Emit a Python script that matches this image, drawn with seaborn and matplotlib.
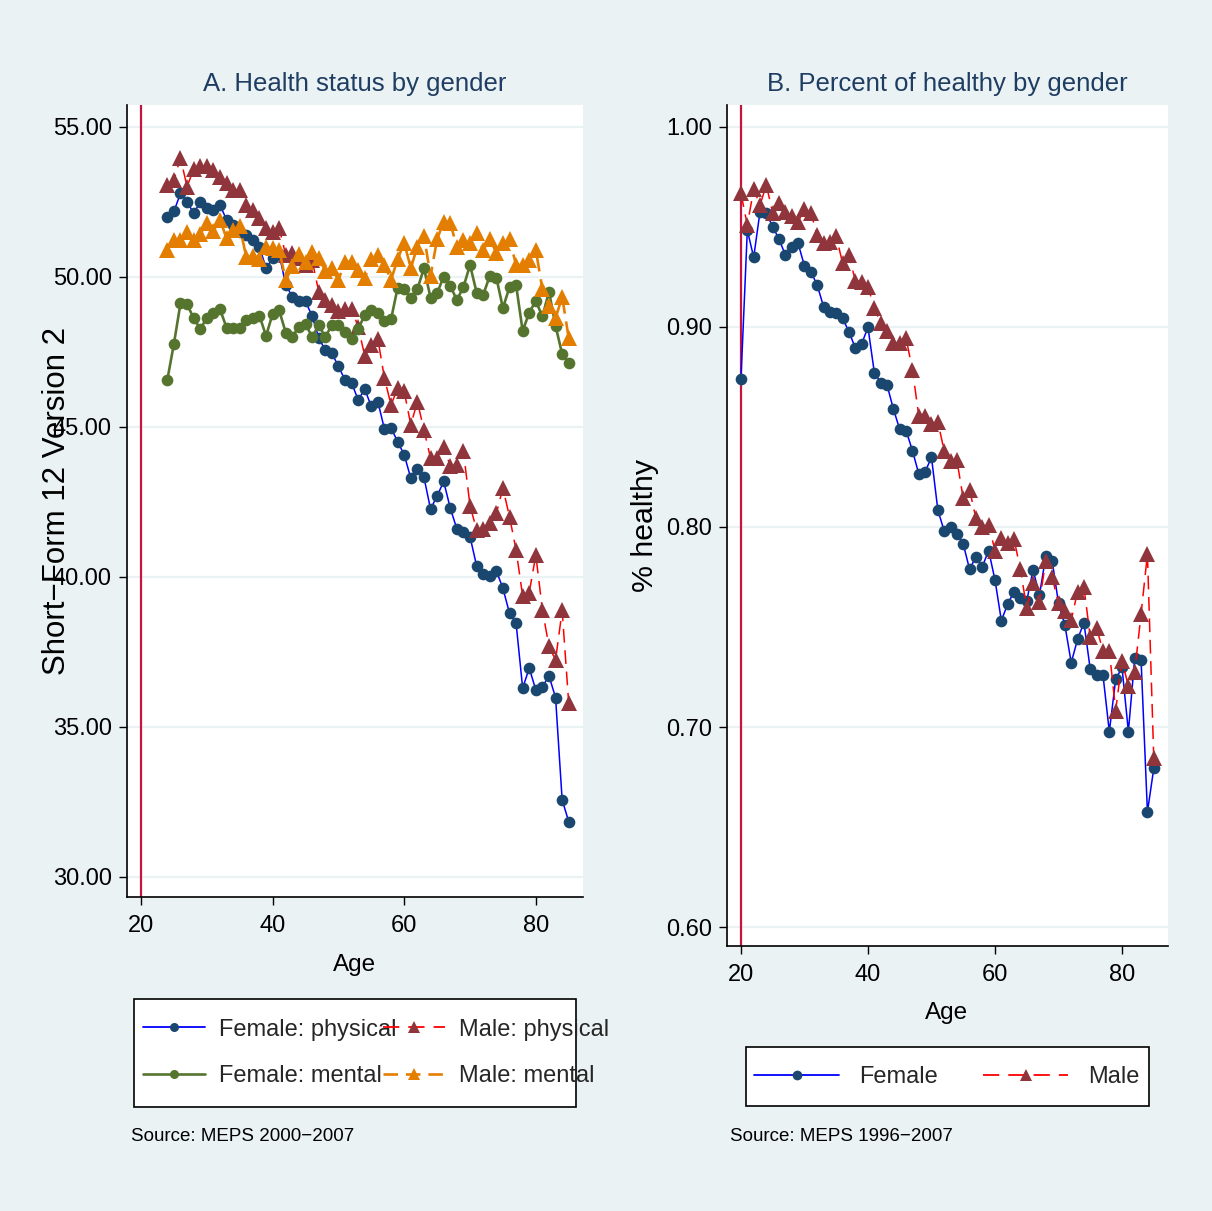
import matplotlib
matplotlib.use("Agg")
import matplotlib.pyplot as plt
import seaborn as sns
import pandas as pd
from matplotlib.lines import Line2D
from matplotlib.patches import Rectangle
from matplotlib.ticker import FixedLocator, FixedFormatter

# ---------------- data ----------------
ages_a = list(range(24, 86))
female_physical = [52.01, 52.18, 52.79, 52.51, 52.12, 52.49, 52.29, 52.23, 52.40, 51.90,
                   51.73, 51.51, 51.40, 51.23, 51.01, 50.29, 50.62, 50.75, 49.73, 49.34,
                   49.21, 49.18, 48.70, 47.98, 47.55, 47.46, 47.02, 46.57, 46.47, 45.90,
                   46.26, 45.68, 45.84, 44.92, 44.96, 44.51, 44.07, 43.29, 43.59, 43.32,
                   42.26, 42.70, 43.18, 42.29, 41.60, 41.51, 41.34, 40.37, 40.10, 40.02,
                   40.20, 39.62, 38.79, 38.46, 36.29, 36.96, 36.23, 36.34, 36.70, 35.98,
                   32.57, 31.84]
male_physical = [53.07, 53.23, 53.96, 53.01, 53.59, 53.68, 53.68, 53.57, 53.34, 53.12,
                 52.90, 52.90, 52.40, 52.23, 51.96, 51.62, 51.51, 51.62, 50.73, 50.79,
                 50.62, 50.40, 50.57, 49.51, 49.23, 49.07, 48.85, 48.92, 48.92, 48.34,
                 47.37, 47.73, 47.92, 46.62, 45.73, 46.29, 46.18, 45.07, 45.84, 44.90,
                 43.96, 43.96, 44.32, 43.70, 43.73, 44.18, 42.37, 41.57, 41.59, 41.81,
                 42.12, 42.96, 42.01, 40.90, 39.37, 39.48, 40.73, 38.90, 37.68, 37.23,
                 38.88, 35.79]
female_mental = [46.57, 47.77, 49.12, 49.09, 48.62, 48.27, 48.62, 48.79, 48.92, 48.31,
                 48.31, 48.31, 48.57, 48.62, 48.71, 48.03, 48.77, 48.88, 48.14, 48.01,
                 48.34, 48.42, 48.01, 48.38, 48.01, 48.38, 48.40, 48.15, 47.92, 48.26,
                 48.73, 48.88, 48.81, 48.52, 48.59, 49.64, 49.59, 49.29, 49.59, 50.29,
                 49.31, 49.46, 50.01, 49.70, 49.23, 49.66, 50.40, 49.48, 49.40, 50.03,
                 49.98, 48.96, 49.66, 49.73, 48.20, 48.81, 49.20, 48.68, 49.51, 48.37,
                 47.43, 47.14]
male_mental = [50.90, 51.23, 51.23, 51.51, 51.23, 51.42, 51.81, 51.54, 51.90, 51.29,
               51.57, 51.68, 50.66, 50.68, 50.59, 50.99, 50.96, 50.90, 49.88, 50.37,
               50.76, 50.51, 50.84, 50.62, 50.21, 50.29, 49.90, 50.50, 50.51, 50.23,
               49.96, 50.60, 50.73, 50.40, 49.90, 50.59, 51.14, 50.29, 51.01, 51.37,
               50.03, 51.26, 51.84, 51.79, 51.01, 51.23, 51.12, 51.46, 50.90, 51.26,
               50.81, 51.12, 51.26, 50.40, 50.40, 50.57, 50.90, 49.59, 49.03, 48.62,
               49.34, 47.96]

ages_b = list(range(20, 86))
female_healthy = [0.8738, 0.9485, 0.9348, 0.9577, 0.9568, 0.9502, 0.9438, 0.9360, 0.9402, 0.9418,
                  0.9305, 0.9277, 0.9210, 0.9102, 0.9077, 0.9068, 0.9043, 0.8977, 0.8895, 0.8916,
                  0.8998, 0.8772, 0.8722, 0.8710, 0.8590, 0.8488, 0.8482, 0.8382, 0.8265, 0.8277,
                  0.8348, 0.8085, 0.7980, 0.8000, 0.7965, 0.7915, 0.7788, 0.7852, 0.7802, 0.7882,
                  0.7735, 0.7532, 0.7615, 0.7677, 0.7643, 0.7632, 0.7785, 0.7660, 0.7855, 0.7832,
                  0.7618, 0.7510, 0.7322, 0.7438, 0.7522, 0.7288, 0.7260, 0.7260, 0.6977, 0.7238,
                  0.7298, 0.6977, 0.7343, 0.7335, 0.6575, 0.6793]
male_healthy = [0.9668, 0.9510, 0.9688, 0.9610, 0.9710, 0.9568, 0.9622, 0.9577, 0.9555, 0.9527,
                0.9588, 0.9572, 0.9460, 0.9418, 0.9427, 0.9455, 0.9318, 0.9360, 0.9232, 0.9227,
                0.9202, 0.9093, 0.9020, 0.8980, 0.8920, 0.8920, 0.8943, 0.8786, 0.8555, 0.8555,
                0.8515, 0.8527, 0.8380, 0.8330, 0.8333, 0.8143, 0.8185, 0.8043, 0.7998, 0.8010,
                0.7882, 0.7943, 0.7922, 0.7938, 0.7788, 0.7593, 0.7722, 0.7627, 0.7832, 0.7748,
                0.7618, 0.7582, 0.7535, 0.7677, 0.7702, 0.7448, 0.7493, 0.7382, 0.7382, 0.7082,
                0.7332, 0.7205, 0.7277, 0.7565, 0.7865, 0.6843]

xticks = [20, 40, 60, 80]
yticks_a = [30, 35, 40, 45, 50, 55]
yticks_b = [0.6, 0.7, 0.8, 0.9, 1.0]
labels_a = ["Female: physical", "Female: mental", "Male: physical", "Male: mental"]
labels_b = ["Female", "Male"]

# ---------------- style ----------------
sns.set_style("white")
NARROW = ["Liberation Sans Narrow", "Liberation Sans", "DejaVu Sans"]
REGULAR = ["Liberation Sans", "DejaVu Sans"]
plt.rcParams["font.family"] = NARROW
plt.rcParams["axes.unicode_minus"] = True

BG = "#EAF2F3"
GRID = "#EAF2F3"
TITLE = "#1F3D63"
NAVY = "#1A476F"
MAROON = "#90353B"
FOREST = "#55752F"
ORANGE = "#E37E00"
BLUE = "#0000FF"
RED = "#FF0000"
XLINE = "#C8143C"

TICK_FS = 17
TITLE_FS = 18.5
LAB_FS = 17.5
LEG_FS = 17
SRC_FS = 13.5

W, H = 1212, 1211
fig = plt.figure(figsize=(W / 100, H / 100), dpi=100, facecolor=BG)


def fx(px):
    return px / W


def fy(py):
    return 1 - py / H


axA = fig.add_axes([fx(127), fy(897), fx(583) - fx(127), fy(105) - fy(897)])
axB = fig.add_axes([fx(727), fy(946), fx(1168) - fx(727), fy(105) - fy(946)])

dfA = pd.DataFrame({"age": ages_a, "fp": female_physical, "mp": male_physical,
                    "fm": female_mental, "mm": male_mental})
dfB = pd.DataFrame({"age": ages_b, "f": female_healthy, "m": male_healthy})

CIRC = 8.4
TRI = 11.5

for ax in (axA, axB):
    ax.set_facecolor("white")

# Panel A
sns.lineplot(data=dfA, x="age", y="fp", ax=axA, color=BLUE, linewidth=1.1, marker="o",
             markersize=CIRC, markerfacecolor=NAVY, markeredgecolor=NAVY, markeredgewidth=0,
             errorbar=None, legend=False, zorder=3)
sns.lineplot(data=dfA, x="age", y="mp", ax=axA, color=RED, linewidth=1.1, marker="^",
             linestyle=(0, (9, 5)), markersize=TRI, markerfacecolor=MAROON,
             markeredgecolor=MAROON, markeredgewidth=0, errorbar=None, legend=False, zorder=3)
sns.lineplot(data=dfA, x="age", y="fm", ax=axA, color=FOREST, linewidth=1.9, marker="o",
             markersize=CIRC, markerfacecolor=FOREST, markeredgecolor=FOREST, markeredgewidth=0,
             errorbar=None, legend=False, zorder=3)
sns.lineplot(data=dfA, x="age", y="mm", ax=axA, color=ORANGE, linewidth=1.9, marker="^",
             linestyle=(0, (5.5, 3)), markersize=TRI, markerfacecolor=ORANGE,
             markeredgecolor=ORANGE, markeredgewidth=0, errorbar=None, legend=False, zorder=3)

# Panel B
sns.lineplot(data=dfB, x="age", y="f", ax=axB, color=BLUE, linewidth=1.1, marker="o",
             markersize=CIRC, markerfacecolor=NAVY, markeredgecolor=NAVY, markeredgewidth=0,
             errorbar=None, legend=False, zorder=3)
sns.lineplot(data=dfB, x="age", y="m", ax=axB, color=RED, linewidth=1.1, marker="^",
             linestyle=(0, (9, 5)), markersize=TRI, markerfacecolor=MAROON,
             markeredgecolor=MAROON, markeredgewidth=0, errorbar=None, legend=False, zorder=3)

for ax, yt, xlim, ylim in ((axA, yticks_a, (17.87, 87.17), (29.33, 55.73)),
                           (axB, yticks_b, (17.8, 87.24), (0.5905, 1.011))):
    ax.set_xlim(*xlim)
    ax.set_ylim(*ylim)
    ax.axvline(20, color=XLINE, linewidth=1.6, zorder=2)
    ax.yaxis.set_major_locator(FixedLocator(yt))
    ax.yaxis.set_major_formatter(FixedFormatter(["{:.2f}".format(v) for v in yt]))
    ax.xaxis.set_major_locator(FixedLocator(xticks))
    ax.xaxis.set_major_formatter(FixedFormatter([str(v) for v in xticks]))
    ax.grid(axis="y", color=GRID, linewidth=1.6, zorder=0)
    ax.grid(axis="x", visible=False)
    ax.set_axisbelow(True)
    for s in ("top", "right"):
        ax.spines[s].set_visible(False)
    for s in ("left", "bottom"):
        ax.spines[s].set_color("black")
        ax.spines[s].set_linewidth(1.2)
    ax.tick_params(axis="both", direction="out", length=6, width=1.0, color="black",
                   labelsize=TICK_FS, pad=5, labelcolor="black", left=True, bottom=True)
    ax.tick_params(axis="x", pad=7)
    ax.set_xlabel("")
    ax.set_ylabel("")

# titles and labels
fig.text(fx(355), fy(91), "A. Health status by gender", ha="center", va="baseline",
         fontsize=TITLE_FS, color=TITLE)
fig.text(fx(947), fy(91), "B. Percent of healthy by gender", ha="center", va="baseline",
         fontsize=TITLE_FS, color=TITLE)
fig.text(fx(355), fy(971), "Age", ha="center", va="baseline", fontsize=LAB_FS, color="black")
fig.text(fx(947), fy(1019), "Age", ha="center", va="baseline", fontsize=LAB_FS, color="black")
fig.text(fx(57), fy(501), "Short\u2212Form 12 Version 2", rotation=90, ha="center",
         va="center", fontsize=22.5, family=REGULAR, color="black")
fig.text(fx(645), fy(526), "% healthy", rotation=90, ha="center", va="center",
         fontsize=21.8, family=REGULAR, color="black")
fig.text(fx(131), fy(1141), "Source: MEPS 2000\u22122007", ha="left", va="baseline",
         fontsize=SRC_FS, color="black")
fig.text(fx(730), fy(1141), "Source: MEPS 1996\u22122007", ha="left", va="baseline",
         fontsize=SRC_FS, color="black")

# legend A
hA = [Line2D([], [], color=BLUE, lw=1.3, marker="o", ms=6.5, mfc=NAVY, mec=NAVY, mew=0),
      Line2D([], [], color=FOREST, lw=1.9, marker="o", ms=6.5, mfc=FOREST, mec=FOREST, mew=0),
      Line2D([], [], color=RED, lw=1.3, ls=(0, (9, 5)), marker="^", ms=8, mfc=MAROON, mec=MAROON, mew=0),
      Line2D([], [], color=ORANGE, lw=1.9, ls=(0, (5.5, 3)), marker="^", ms=8, mfc=ORANGE, mec=ORANGE, mew=0)]
fig.add_artist(Rectangle((fx(134), fy(1107)), fx(576) - fx(134), fy(999) - fy(1107),
                         transform=fig.transFigure, facecolor="white", edgecolor="black",
                         linewidth=1.2, zorder=1))
fig.legend(hA, labels_a, loc="center", bbox_to_anchor=(fx(376), fy(1053)), ncol=2,
           frameon=False, fontsize=LEG_FS, handlelength=2.63, handletextpad=0.6,
           columnspacing=-0.6, labelspacing=1.05, borderpad=0, borderaxespad=0)

# legend B
hB = [Line2D([], [], color=BLUE, lw=1.3, marker="o", ms=7, mfc=NAVY, mec=NAVY, mew=0),
      Line2D([], [], color=RED, lw=1.3, ls=(0, (9, 5)), marker="^", ms=9, mfc=MAROON, mec=MAROON, mew=0)]
fig.add_artist(Rectangle((fx(746), fy(1106)), fx(1149) - fx(746), fy(1047) - fy(1106),
                         transform=fig.transFigure, facecolor="white", edgecolor="black",
                         linewidth=1.2, zorder=1))
fig.legend(hB, labels_b, loc="center", bbox_to_anchor=(fx(947), fy(1077)), ncol=2,
           frameon=False, fontsize=LEG_FS, handlelength=3.6, handletextpad=0.85,
           columnspacing=1.93, borderpad=0, borderaxespad=0)

fig.savefig("out.png", dpi=100, facecolor=BG)
